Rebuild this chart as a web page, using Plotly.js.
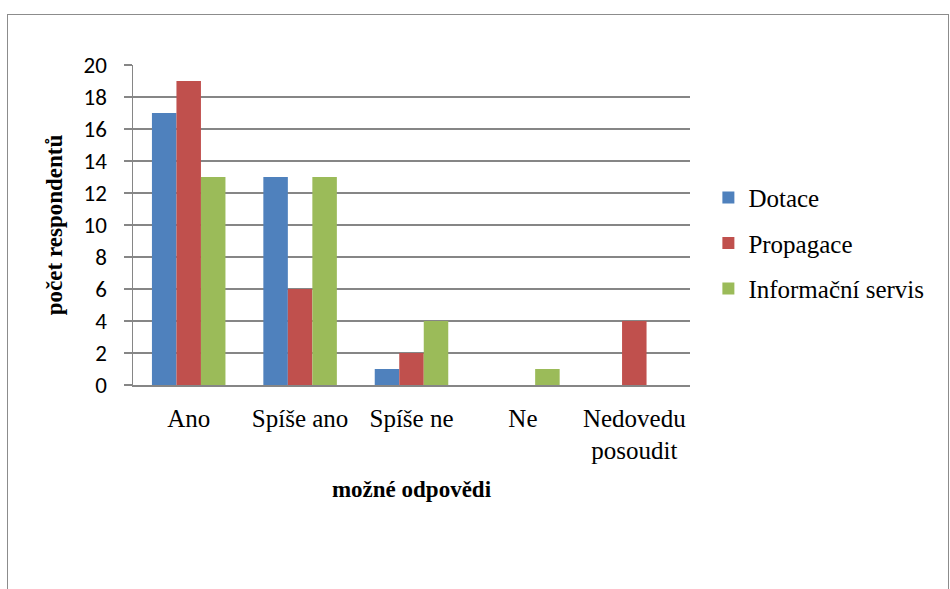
<!DOCTYPE html>
<html><head><meta charset="utf-8">
<script src="https://cdn.plot.ly/plotly-3.0.1.min.js"></script>
<style>
body{margin:0;padding:0;background:#fff;}
#wrap{position:relative;width:950px;height:589px;overflow:hidden;}
#chart{position:absolute;left:0;top:0;width:950px;height:589px;}
#frame{position:absolute;left:7px;top:14px;width:940px;height:600px;border:1.5px solid #8c8c8c;pointer-events:none;}
</style></head>
<body>
<div id="wrap"><div id="chart"></div><div id="frame"></div></div>
<script>
var categories = ["Ano", "Spíše ano", "Spíše ne", "Ne", "Nedovedu<br>posoudit"];
var dotace = [17, 13, 1, 0, 0];
var propagace = [19, 6, 2, 0, 4];
var informacni = [13, 13, 4, 1, 0];
var seriesNames = ["Dotace", "Propagace", "Informační servis"];
var colors = ["#4F81BD", "#C0504D", "#9BBB59"];
var yTicks = [0, 2, 4, 6, 8, 10, 12, 14, 16, 18, 20];

var SERIF = "Liberation Serif";
var series = [dotace, propagace, informacni];
var data = series.map(function(v, i){
  return {type:"bar", x:categories, y:v, name:seriesNames[i], legendgroup:"g"+i,
    marker:{color:colors[i], line:{width:0}}};
});
var layout = {
  width:950, height:589,
  margin:{l:133, r:260, t:65, b:204},
  paper_bgcolor:"rgba(0,0,0,0)", plot_bgcolor:"rgba(0,0,0,0)",
  barmode:"group", bargap:0.34, bargroupgap:0,
  showlegend:true,
  legend:{x:1.033, y:0.657, xanchor:"left", yanchor:"top",
    font:{family:SERIF, size:25, color:"#000"},
    tracegroupgap:10, itemwidth:30, bgcolor:"rgba(0,0,0,0)"},
  xaxis:{type:"category", showgrid:false, showline:true, linecolor:"#868686", linewidth:1.5,
    ticks:"", tickfont:{family:SERIF, size:25, color:"#000"},
    ticklabelstandoff:10, fixedrange:true,
    title:{text:"možné odpovědi", font:{family:SERIF, size:23, color:"#000", weight:"bold"}, standoff:18}},
  yaxis:{range:[0,20], tickvals:yTicks, ticktext:yTicks.map(String), showgrid:true, gridcolor:"#868686", gridwidth:1.5,
    zeroline:false, showline:true, linecolor:"#868686", linewidth:1.5,
    ticks:"outside", ticklen:8, tickcolor:"#868686", tickwidth:1.5,
    tickfont:{family:"Carlito", size:23, color:"#000"},
    ticklabelstandoff:12, fixedrange:true,
    title:{text:"počet respondentů", font:{family:SERIF, size:23, color:"#000", weight:"bold"}, standoff:14}}
};
Plotly.newPlot("chart", data, layout, {displayModeBar:false, staticPlot:true});
</script>
</body></html>
